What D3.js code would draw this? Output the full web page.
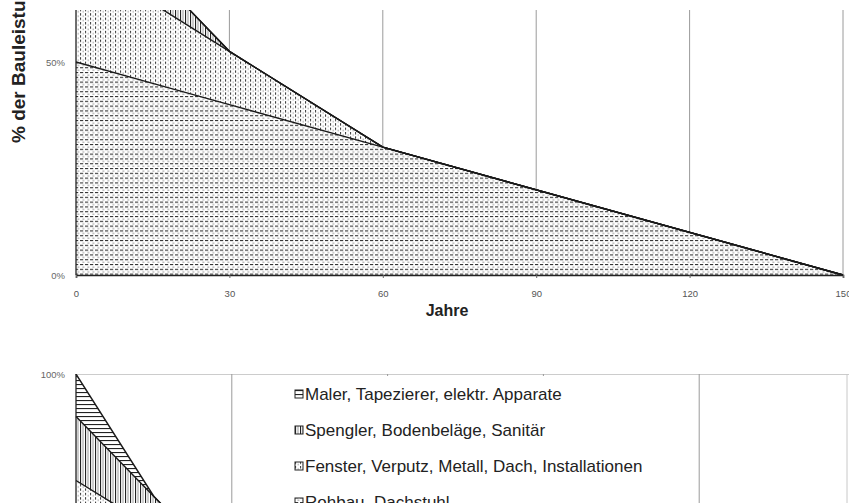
<!DOCTYPE html>
<html>
<head>
<meta charset="utf-8">
<script src="https://cdn.jsdelivr.net/npm/d3@7"></script>
<style>
body{margin:0;background:#fff;}
svg{display:block;font-family:Arial,"Liberation Sans",sans-serif;}
</style>
</head>
<body>
<div id="chart"></div>
<script>
// Restwert der Bauteile (% der Bauleistung) ueber die Jahre
var years    = [0, 15, 30, 60, 150];
var rohbau   = [50, 45, 40, 30, 0];
var fenster  = [25, 18.75, 12.5, 0, 0];
var spengler = [15, 7.5, 0, 0, 0];
var maler    = [10, 0, 0, 0, 0];

var keys = ["rohbau", "fenster", "spengler", "maler"];
var legendNames = ["Maler, Tapezierer, elektr. Apparate",
  "Spengler, Bodenbeläge, Sanitär",
  "Fenster, Verputz, Metall, Dach, Installationen",
  "Rohbau, Dachstuhl"];
var legendKeys = ["maler", "spengler", "fenster", "rohbau"];
var xTicks = [0, 30, 60, 90, 120, 150];
var yTicks = [0, 50, 100];

var W = 849, H = 503;
var svg = d3.select("#chart").append("svg").attr("width", W).attr("height", H);
svg.append("rect").attr("width", W).attr("height", H).attr("fill", "#fff");

var defs = svg.append("defs");
// hatch patterns like the scanned b/w print
var p = defs.append("pattern").attr("id", "pRohbau").attr("patternUnits", "userSpaceOnUse")
  .attr("width", 5).attr("height", 4.8);
p.append("rect").attr("width", 5).attr("height", 4.8).attr("fill", "#fff");
p.append("rect").attr("x", 0).attr("y", 0).attr("width", 3.2).attr("height", 1.1).attr("fill", "#333");
p.append("rect").attr("x", 2.4).attr("y", 2.4).attr("width", 2).attr("height", 1.4).attr("fill", "#b8b8b8");

p = defs.append("pattern").attr("id", "pFenster").attr("patternUnits", "userSpaceOnUse")
  .attr("width", 5).attr("height", 4.4);
p.append("rect").attr("width", 5).attr("height", 4.4).attr("fill", "#fff");
p.append("rect").attr("x", 0).attr("y", 0).attr("width", 1.1).attr("height", 2.4).attr("fill", "#444");
p.append("rect").attr("x", 2.5).attr("y", 2.2).attr("width", 1.5).attr("height", 1.6).attr("fill", "#bdbdbd");

p = defs.append("pattern").attr("id", "pSpengler").attr("patternUnits", "userSpaceOnUse")
  .attr("width", 5).attr("height", 5);
p.append("rect").attr("width", 5).attr("height", 5).attr("fill", "#fff");
p.append("rect").attr("x", 0).attr("y", 0).attr("width", 1.1).attr("height", 5).attr("fill", "#222");
p.append("rect").attr("x", 2.5).attr("y", 0).attr("width", 1).attr("height", 5).attr("fill", "#999");

p = defs.append("pattern").attr("id", "pMaler").attr("patternUnits", "userSpaceOnUse")
  .attr("width", 5).attr("height", 4);
p.append("rect").attr("width", 5).attr("height", 4).attr("fill", "#fff");
p.append("rect").attr("x", 0).attr("y", 0).attr("width", 5).attr("height", 1.1).attr("fill", "#222");

var fills = {rohbau: "url(#pRohbau)", fenster: "url(#pFenster)", spengler: "url(#pSpengler)", maler: "url(#pMaler)"};

var table = years.map(function(yr, i){
  return {year: yr, rohbau: rohbau[i], fenster: fenster[i], spengler: spengler[i], maler: maler[i]};
});
var stacked = d3.stack().keys(keys)(table);

function drawPanel(g, x, y, clipId, clipTop, clipBottom){
  defs.append("clipPath").attr("id", clipId).append("rect")
    .attr("x", 0).attr("y", clipTop).attr("width", W).attr("height", clipBottom - clipTop);
  var area = d3.area().x(function(d){return x(d.data.year);})
    .y0(function(d){return y(d[0]);}).y1(function(d){return y(d[1]);});
  var line = d3.line().x(function(d){return x(d.data.year);}).y(function(d){return y(d[1]);});
  var plot = g.append("g").attr("clip-path", "url(#" + clipId + ")");

  // vertical grid
  plot.selectAll(".vgrid").data(xTicks.slice(1)).enter().append("line")
    .attr("x1", function(d){return x(d);}).attr("x2", function(d){return x(d);})
    .attr("y1", y(100)).attr("y2", y(0))
    .attr("stroke", "#9a9a9a").attr("stroke-width", 1);
  plot.append("line").attr("x1", x(0)).attr("x2", W).attr("y1", y(100)).attr("y2", y(100))
    .attr("stroke", "#9a9a9a").attr("stroke-width", 1.2);

  plot.selectAll(".layer").data(stacked).enter().append("path")
    .attr("d", area).attr("fill", function(d){return fills[d.key];});
  plot.selectAll(".edge").data(stacked).enter().append("path")
    .attr("d", line).attr("fill", "none").attr("stroke", "#1a1a1a").attr("stroke-width", 1.4);
  return plot;
}

// ---- upper chart ----
var x1 = d3.scaleLinear().domain([0, 150]).range([76, 843]);
var y1 = d3.scaleLinear().domain([0, 100]).range([275, -151]);
var topG = svg.append("g");
drawPanel(topG, x1, y1, "clipTop", 10, 276);

topG.append("line").attr("x1", x1(0)).attr("x2", x1(0)).attr("y1", 10).attr("y2", y1(0))
  .attr("stroke", "#222").attr("stroke-width", 1.3);
var xAx = topG.append("g").attr("transform", "translate(0," + y1(0) + ")")
  .call(d3.axisBottom(x1).tickValues(xTicks).tickSize(3).tickPadding(12).tickFormat(d3.format("d")));
xAx.select(".domain").attr("stroke", "#222").attr("stroke-width", 1.6);
xAx.selectAll("line").attr("stroke", "#666");
xAx.selectAll("text").attr("font-size", 9.5).attr("fill", "#555");

var yAx = topG.append("g").attr("transform", "translate(" + x1(0) + ",0)")
  .call(d3.axisLeft(y1).tickValues(yTicks.slice(0, 2)).tickSize(0).tickPadding(11)
    .tickFormat(function(d){return d + "%";}));
yAx.select(".domain").remove();
yAx.selectAll("text").attr("font-size", 9.5).attr("fill", "#666");

topG.append("text").attr("x", 447).attr("y", 316).attr("text-anchor", "middle")
  .attr("font-size", 16).attr("font-weight", "bold").attr("fill", "#222").text("Jahre");
topG.append("text").attr("transform", "translate(25,143) rotate(-90)")
  .attr("font-size", 19).attr("font-weight", "bold").attr("fill", "#222").text("% der Bauleistung");

// ---- lower chart ----
var x2 = d3.scaleLinear().domain([0, 150]).range([76, 855]);
var y2 = d3.scaleLinear().domain([0, 100]).range([800, 374]);
var botG = svg.append("g");
drawPanel(botG, x2, y2, "clipBot", 374, H);
botG.append("line").attr("x1", 847).attr("x2", 847).attr("y1", 374).attr("y2", H)
  .attr("stroke", "#c8c8c8").attr("stroke-width", 1);
botG.append("line").attr("x1", x2(0)).attr("x2", x2(0)).attr("y1", y2(100)).attr("y2", H)
  .attr("stroke", "#222").attr("stroke-width", 1.3);
var yAx2 = botG.append("g").attr("transform", "translate(" + x2(0) + ",0)")
  .call(d3.axisLeft(y2).tickValues([100]).tickSize(0).tickPadding(11)
    .tickFormat(function(d){return d + "%";}));
yAx2.select(".domain").remove();
yAx2.selectAll("text").attr("font-size", 9.5).attr("fill", "#666");

// legend box (white, covers grid)
var leg = botG.append("g");
leg.append("rect").attr("x", 270).attr("y", 376).attr("width", 412).attr("height", H - 376).attr("fill", "#fff");
var rows = leg.selectAll(".row").data(legendKeys).enter().append("g")
  .attr("transform", function(d, i){return "translate(295," + (394 + i * 36) + ")";});
rows.append("rect").attr("x", 0).attr("y", -4).attr("width", 8).attr("height", 8)
  .attr("fill", function(d){return fills[d];}).attr("stroke", "#222").attr("stroke-width", 1);
rows.append("text").attr("x", 10).attr("y", 6).attr("font-size", 17).attr("fill", "#222")
  .text(function(d, i){return legendNames[i];});
</script>
</body>
</html>
